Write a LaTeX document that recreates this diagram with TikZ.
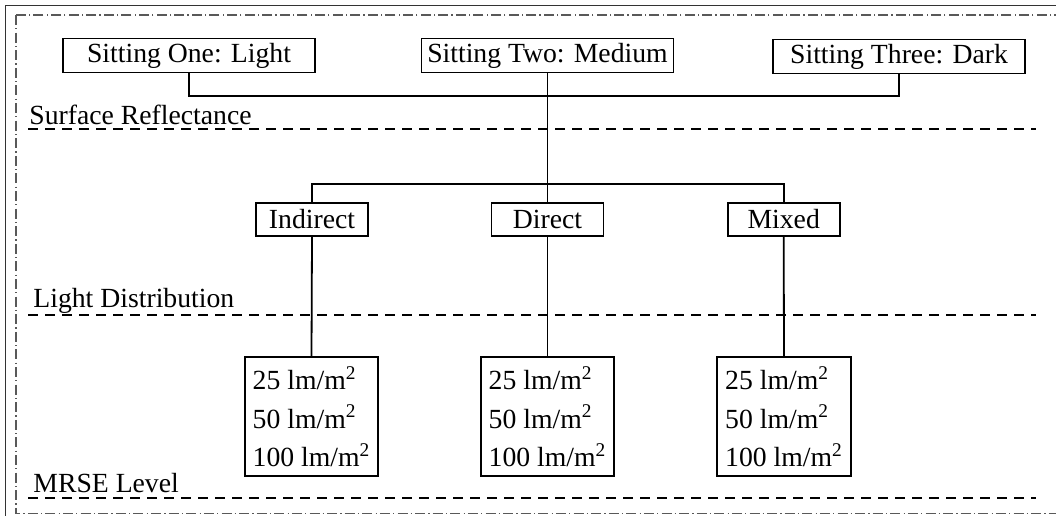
\documentclass[tikz,border=0pt]{standalone}
\usepackage{fontspec}
\setmainfont{Liberation Serif}
\begin{document}
\begin{tikzpicture}[x=0.5pt,y=-0.5pt,
  every node/.style={font=\fontsize{13.85}{19.25}\selectfont},
  topbox/.style={draw,line width=0.9pt,minimum width=126pt,minimum height=17pt,inner sep=1pt},
  midbox/.style={draw,line width=0.9pt,minimum width=56pt,minimum height=16.5pt,inner sep=1pt},
  lvlbox/.style={draw,line width=0.9pt,minimum width=66.5pt,minimum height=59.5pt,
    align=left,inner xsep=4pt,inner ysep=0pt},
  link/.style={line width=0.9pt},
  sepline/.style={line width=0.75pt,dash pattern=on 5pt off 3.5pt},
  lvllabel/.style={anchor=base west,inner sep=0pt},
  framedash/.style={line width=0.75pt,draw=black!65,dash pattern=on 5pt off 1.6pt on 0.6pt off 1.6pt},
]
\useasboundingbox (0,0) rectangle (1056,515);
\clip (0,0) rectangle (1056,515);

% frames
\draw[line width=0.5pt,black!80] (5,5) rectangle (1080,540);
\draw[framedash] (16,15) rectangle (1080,513.5);

% surface reflectance settings
\node[topbox] (s1) at (189,55.5) {Sitting One: Light};
\node[topbox] (s2) at (547.5,55.5) {Sitting Two: Medium};
\node[topbox] (s3) at (899,56.5) {Sitting Three: Dark};

% light distribution types
\node[midbox] (d1) at (312,219.5) {Indirect};
\node[midbox] (d2) at (547.5,219.5) {Direct};
\node[midbox] (d3) at (783.7,219.5) {Mixed};

% MRSE levels
\node[lvlbox] (b1) at (311.5,416.5) {25 lm/m\textsuperscript{2}\\50 lm/m\textsuperscript{2}\\100 lm/m\textsuperscript{2}};
\node[lvlbox] (b2) at (547.5,416.5) {25 lm/m\textsuperscript{2}\\50 lm/m\textsuperscript{2}\\100 lm/m\textsuperscript{2}};
\node[lvlbox] (b3) at (784,416.5) {25 lm/m\textsuperscript{2}\\50 lm/m\textsuperscript{2}\\100 lm/m\textsuperscript{2}};

% tree connectors
\coordinate (j1) at (547.5,96);
\coordinate (j2) at (547.5,184);
\draw[link] (s1.south) |- (j1) -| (s3.south);
\draw[link] (s2.south) -- (d2.north);
\draw[link] (d1.north) |- (j2) -| (d3.north);
\draw[link] (d1.south) -- (b1.north);
\draw[link] (d2.south) -- (b2.north);
\draw[link] (d3.south) -- (b3.north);

% level labels and separators
\node[lvllabel] (l1) at (29,124) {Surface Reflectance};
\node[lvllabel] (l2) at (33,307) {Light Distribution};
\node[lvllabel] (l3) at (33,492) {MRSE Level};
\coordinate (r1a) at (28,129);   \coordinate (r1b) at (1036,129);
\coordinate (r2a) at (28,315);   \coordinate (r2b) at (1036,315);
\coordinate (r3a) at (28,498);   \coordinate (r3b) at (1036,498);
\draw[sepline] (r1a) -- (r1b);
\draw[sepline] (r2a) -- (r2b);
\draw[sepline] (r3a) -- (r3b);
\end{tikzpicture}
\end{document}
